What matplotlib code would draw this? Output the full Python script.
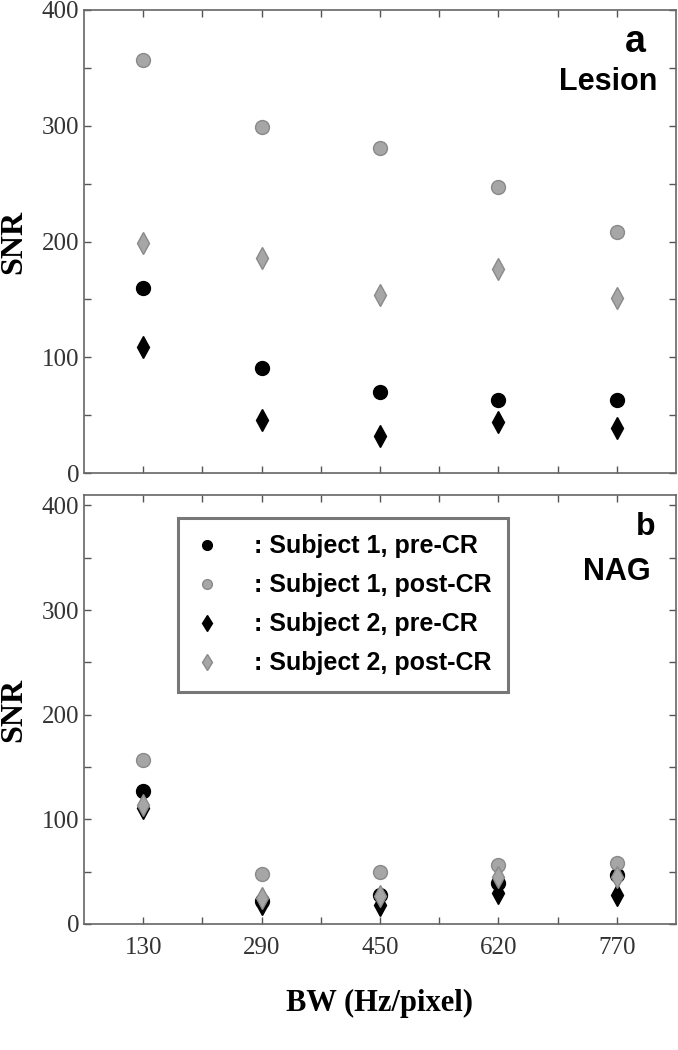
import matplotlib.pyplot as plt
import numpy as np

bw = ['130', '290', '450', '620', '770']

# panel a: Lesion
les_s1_pre = [160, 91, 70, 63, 63]
les_s1_post = [357, 299, 281, 247, 208]
les_s2_pre = [109, 46, 32, 44, 39]
les_s2_post = [199, 186, 154, 176, 151]

# panel b: NAG
nag_s1_pre = [127, 22, 28, 39, 47]
nag_s1_post = [157, 48, 50, 56, 58]
nag_s2_pre = [111, 19, 18, 30, 28]
nag_s2_post = [114, 25, 27, 45, 45]

labels = [': Subject 1, pre-CR', ': Subject 1, post-CR',
          ': Subject 2, pre-CR', ': Subject 2, post-CR']

W, H = 678, 1050
fig = plt.figure(figsize=(W / 100, H / 100), dpi=100)

def box(l, t, r, b):
    return [l / W, 1 - b / H, (r - l) / W, (b - t) / H]

ax_a = fig.add_axes(box(84, 10, 676, 473))
ax_b = fig.add_axes(box(84, 495, 676, 924))

styles = [
    dict(marker='o', ms=10, mfc='black', mec='black'),
    dict(marker='o', ms=10, mfc='#a6a6a6', mec='#8a8a8a'),
    dict(marker='d', ms=11, mfc='black', mec='black'),
    dict(marker='d', ms=11, mfc='#a6a6a6', mec='#8a8a8a'),
]

x = np.arange(len(bw))

def draw(ax, series, ytop):
    handles = []
    for s, st in zip(series, styles):
        h, = ax.plot(x, s, ls='none', mew=1, **st)
        handles.append(h)
    ax.set_xlim(-0.5, 4.5)
    ax.set_ylim(0, ytop)
    ax.set_xticks(x)
    ax.set_xticks(x[:-1] + 0.5, minor=True)
    ax.set_yticks([0, 100, 200, 300, 400])
    ax.set_yticks([50, 150, 250, 350], minor=True)
    ax.tick_params(which='both', direction='in', top=True, right=True,
                   length=5, width=1, color='#555555',
                   labelsize=18, labelcolor='#333333')
    for lab in ax.get_yticklabels() + ax.get_xticklabels():
        lab.set_fontfamily('Liberation Serif')
    for sp in ax.spines.values():
        sp.set_color('#666666')
        sp.set_linewidth(1.2)
    ax.set_ylabel('SNR', fontsize=23, fontweight='bold',
                  family='Liberation Serif')
    ax.yaxis.set_label_coords(-0.094, 0.5)
    return handles

draw(ax_a, [les_s1_pre, les_s1_post, les_s2_pre, les_s2_post], 400)
ax_a.set_xticklabels([])
hb = draw(ax_b, [nag_s1_pre, nag_s1_post, nag_s2_pre, nag_s2_post], 410)
ax_b.set_xticklabels(bw, family='Liberation Serif')
ax_b.tick_params(axis='x', pad=9)
ax_b.set_xlabel('BW (Hz/pixel)', fontsize=22, fontweight='bold',
                family='Liberation Serif', labelpad=22)

leg = fig.legend(hb, labels, loc='upper left',
                 bbox_to_anchor=(178 / W, 1 - 518 / H),
                 bbox_transform=fig.transFigure, borderaxespad=0,
                 prop=dict(family='Liberation Sans', weight='bold', size=18),
                 markerscale=0.7, handlelength=1.0, handletextpad=1.4,
                 labelspacing=0.6, borderpad=0.65, fancybox=False,
                 framealpha=1, edgecolor='#777777')
leg.get_frame().set_linewidth(2.2)

sans = dict(family='Liberation Sans', fontweight='bold', ha='right', va='center')
fig.text(646 / W, 1 - 42 / H, 'a', fontsize=27, **sans)
fig.text(657 / W, 1 - 82 / H, 'Lesion', fontsize=22, **sans)
fig.text(655 / W, 1 - 527 / H, 'b', fontsize=23, **sans)
fig.text(651 / W, 1 - 572 / H, 'NAG', fontsize=22, **sans)

fig.savefig('out.png', dpi=100)
